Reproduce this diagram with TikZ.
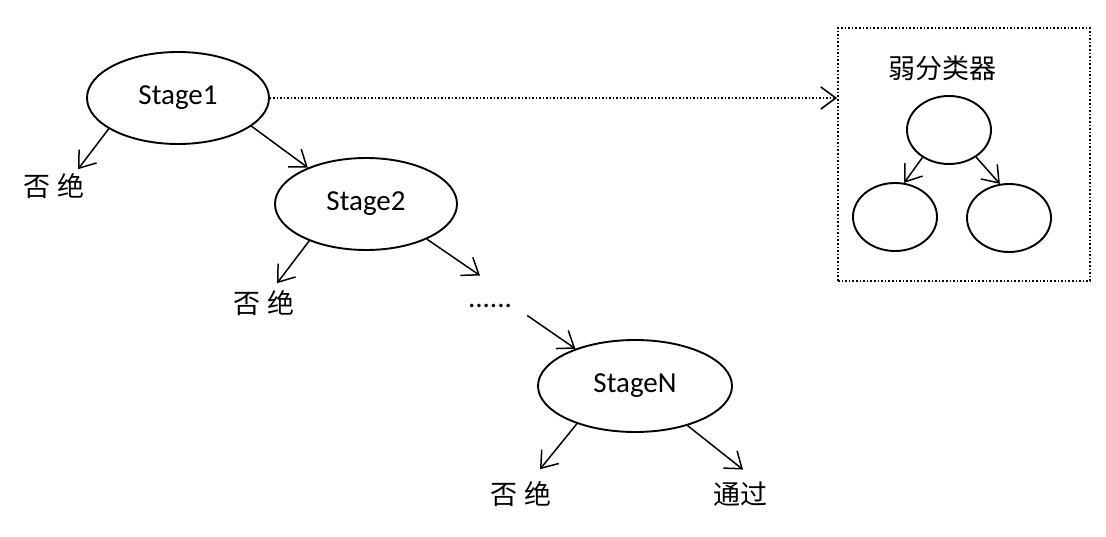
\documentclass[tikz,border=0pt]{standalone}
\usepackage{fontspec}
\setmainfont{Carlito}
\newfontfamily\cjk{Noto Sans CJK SC}
\usetikzlibrary{arrows.meta,calc,shapes.geometric}
\begin{document}
\begin{tikzpicture}[x=1pt,y=-1pt,
  stagebox/.style={ellipse,draw,line width=1.9pt,minimum width=182pt,minimum height=92pt,inner sep=0pt,font=\fontsize{29}{34}\selectfont},
  leaf/.style={ellipse,draw,line width=1.9pt,minimum width=84pt,minimum height=68pt,inner sep=0pt},
  cn/.style={inner sep=0pt,font=\cjk\fontsize{27}{32}\selectfont},
  arr/.style={line width=1.5pt,-{Straight Barb[length=15pt,width=22pt]}},
]
\useasboundingbox (0,0) rectangle (1106,537);

% stages
\node[stagebox] (s1) at (178,98) {Stage1};
\node[stagebox] (s2) at (366,204) {Stage2};
\node[stagebox,minimum width=194pt] (sN) at (635,386) {StageN};

% texts
\node[cn] (r1) at (54,186) {否\hspace{7pt}绝};
\node[cn] (r2) at (264,303) {否\hspace{7pt}绝};
\node[cn] (r3) at (521,494) {否\hspace{7pt}绝};
\node[cn] (pass) at (740,494) {通过};
\node[inner sep=0pt,anchor=base,font=\fontsize{29}{34}\selectfont] (dots) at (490,308) {......};

% weak classifier box
\node[draw,dotted,line width=1.6pt,minimum width=252pt,minimum height=253pt,inner sep=0pt] (box) at (964,154.5) {};
\node[cn] (title) at (942,68) {弱分类器};
\node[leaf] (c0) at (949,130) {};
\node[leaf] (c1) at (895,217) {};
\node[leaf] (c2) at (1009,218) {};

% connectors
\draw[arr] (s1.204) -- ($(r1.north)+(24,-4)$);
\draw[arr] (s1.339.5) -- (s2.148.6);
\draw[arr] (s2.213.5) -- ($(r2.north)+(13,-7)$);
\draw[arr] (s2.330.6) -- ($(dots.north)+(-10,-29)$);
\draw[arr] ($(dots.south east)+(15,7)$) -- (sN.148.5);
\draw[arr] (sN.213.5) -- ($(r3.north)+(19,-12)$);
\draw[arr] (sN.323.7) -- ($(pass.north)+(3,-12)$);
\draw[arr,dotted,line width=1.6pt] (s1.east) -- (s1.east -| box.west);
\draw[arr] (c0.226) -- (c1.75);
\draw[arr] (c0.315) -- (c2.105);
\end{tikzpicture}
\end{document}
